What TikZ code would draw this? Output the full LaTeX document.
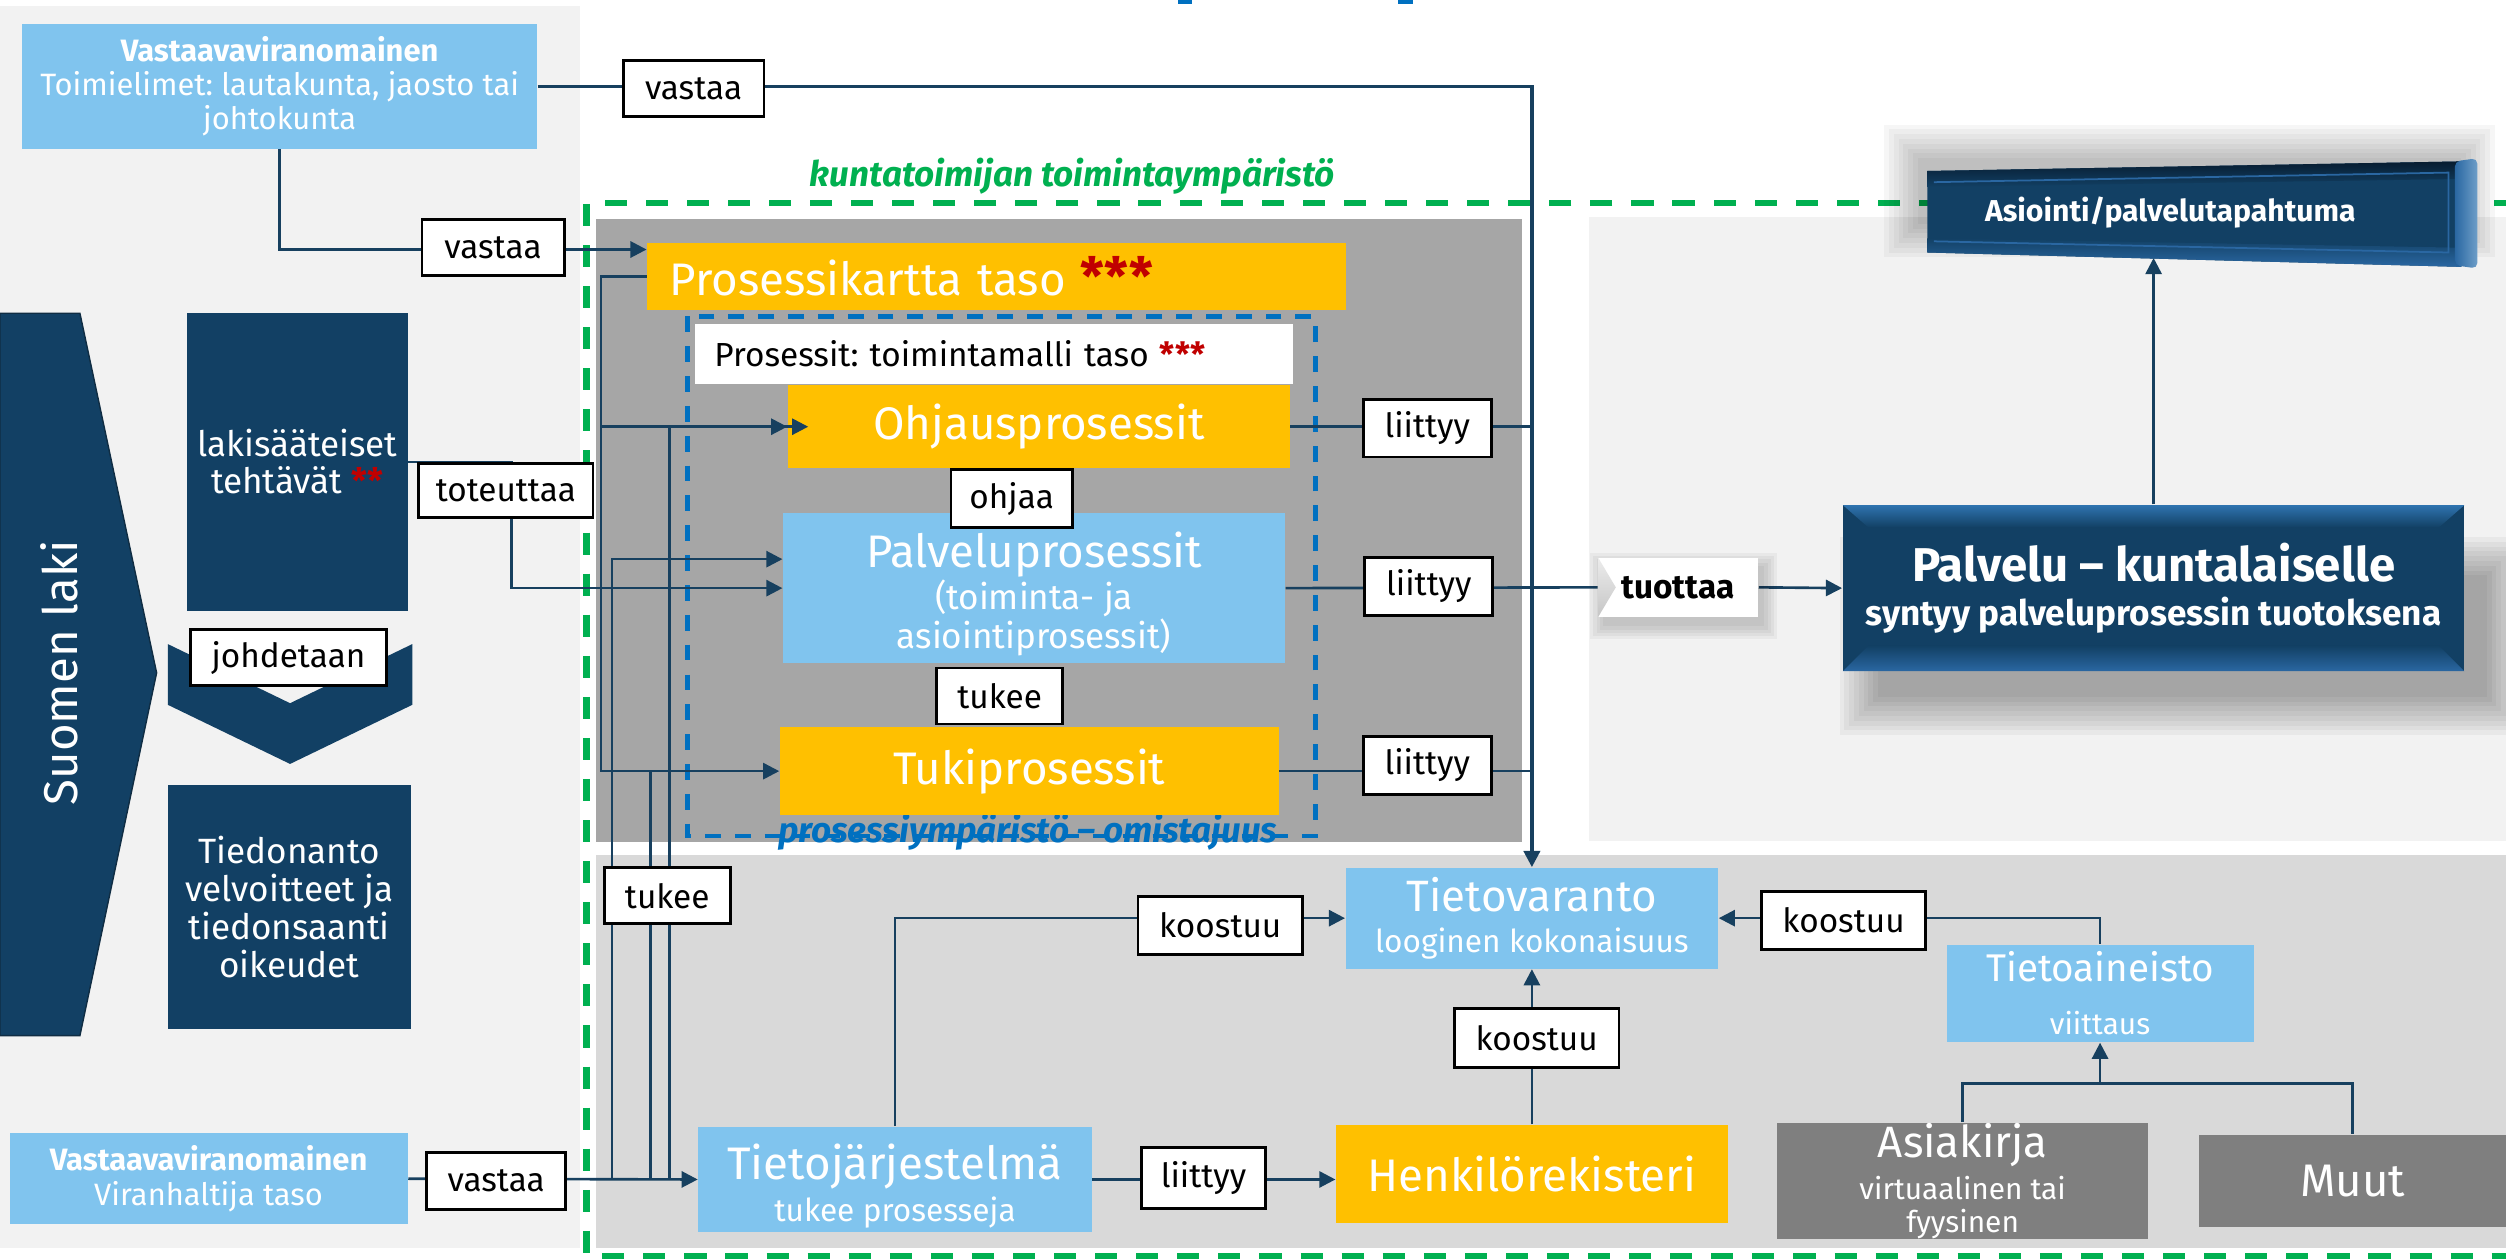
\documentclass[tikz,border=0pt]{standalone}
\usepackage{fontspec}
\setmainfont{Fira Sans}
\usetikzlibrary{arrows.meta,calc}
\definecolor{navy}{HTML}{124064}
\definecolor{lnc}{HTML}{17405F}
\definecolor{ylw}{HTML}{FFC000}
\definecolor{sky}{HTML}{80C4EE}
\definecolor{gry}{HTML}{7F7F7F}
\definecolor{pdark}{HTML}{A6A6A6}
\definecolor{plight}{HTML}{F2F2F2}
\definecolor{pmid}{HTML}{D9D9D9}
\definecolor{astred}{HTML}{C00000}
\definecolor{grn}{HTML}{00B050}
\definecolor{dblue}{HTML}{0070C0}
\definecolor{bevtop}{HTML}{2F74B0}
\definecolor{bevbot}{HTML}{2A67A2}
\definecolor{bandark}{HTML}{071C30}
\newcommand\redstars[1]{{\color{astred}\bfseries #1}}
\pgfdeclarelayer{bg}
\pgfdeclarelayer{fg}
\pgfdeclarelayer{top}
\pgfsetlayers{bg,main,fg,top}
\frenchspacing
\begin{document}
\begin{tikzpicture}[x=0.16mm, y=-0.16mm,
  bx/.style 2 args={minimum width=#1*0.16mm, minimum height=#2*0.16mm, inner sep=0pt, align=center, text=white},
  lbl/.style 2 args={bx={#1}{#2}, fill=white, draw=black, line width=0.8pt, text=black, font=\fontsize{9.5}{11}\selectfont},
  big/.style={font=\fontsize{13}{15}\selectfont},
  conn/.style={draw=lnc, line width=0.75pt},
  arr/.style={conn, -{Triangle[length=4.6pt, width=4.6pt]}},
  softshade/.style={fill=black, fill opacity=0.04},
]
\useasboundingbox (0,0) rectangle (1568,788);

% ---------- panels and frames ----------
\begin{pgfonlayer}{bg}
\fill[plight] (0,4) rectangle (363,781);
\fill[pdark] (373,137) rectangle (952,527);
\fill[plight] (994,136) rectangle (1600,526);
\fill[pmid] (373,535) rectangle (1600,781);
\node[text=dblue, font=\bfseries\itshape\fontsize{10}{12}\selectfont] (ownlbl) at (643,521) {prosessiympäristö – omistajuus};
\draw[dblue, line width=1.3pt, dash pattern=on 4.5pt off 4pt] (430,198) rectangle (823,523);
\draw[grn, line width=1.8pt, dash pattern=on 6.3pt off 5.4pt] (1600,127) -- (367,127) -- (367,786) -- (1600,786);
\node[text=grn, font=\bfseries\itshape\fontsize{10}{12}\selectfont] (envlbl) at (671,110) {kuntatoimijan toimintaympäristö};
\fill[dblue] (737,0) rectangle (746,2.5);
\fill[dblue] (875,0) rectangle (884,2.5);
\end{pgfonlayer}

% ---------- boxes ----------
\begin{pgfonlayer}{fg}
% law column
\fill[navy, draw=lnc!70!black, line width=0.4pt] (0,196) -- (50,196) -- (98,421) -- (50,648) -- (0,648) -- cycle;
\node[rotate=90, text=white, font=\fontsize{13.5}{15}\selectfont] (suomen) at (37,421) {Suomen laki};
\node[bx={138}{186}, fill=navy, font=\fontsize{10}{10.5}\selectfont] (laki) at (186,289) {lakisääteiset\\tehtävät \redstars{**}};
\fill[navy] (105,403) -- (181.5,440) -- (258,403) -- (258,441) -- (181.5,478) -- (105,441) -- cycle;
\node[bx={152}{153}, fill=navy, font=\fontsize{10}{10.9}\selectfont] (tiedon) at (181,567.5) {Tiedonanto\\velvoitteet ja\\tiedonsaanti\\oikeudet};
\node[bx={322}{78}, fill=sky, font=\fontsize{8.8}{9.8}\selectfont] (topauth) at (175,54) {\textbf{Vastaavaviranomainen}\\Toimielimet: lautakunta, jaosto tai\\johtokunta};
\node[bx={249}{57}, fill=sky, font=\fontsize{8.8}{9.8}\selectfont] (botauth) at (130.5,737.5) {\textbf{Vastaavaviranomainen}\\Viranhaltija taso};

% process map
\node[fill=ylw, minimum height=42*0.16mm, inner xsep=14*0.16mm, inner ysep=0pt, text width=409*0.16mm, align=left, text=white, big] (pk) at (623.5,173) {Prosessikartta taso \redstars{\fontsize{15}{15}\selectfont ***}};
\node[fill=white, minimum height=37*0.16mm, inner xsep=12*0.16mm, inner ysep=0pt, text width=350*0.16mm, align=left, font=\fontsize{9.5}{11}\selectfont] (pmodel) at (622,221.5) {Prosessit: toimintamalli taso \redstars{***}};
\node[bx={314}{52}, fill=ylw, big] (ohjaus) at (650,267) {Ohjausprosessit};
\node[bx={314}{94}, fill=sky, font=\fontsize{10}{11}\selectfont] (palvelu) at (647,368) {\mbox{}\\[2.4pt]{\fontsize{13}{15}\selectfont Palveluprosessit}\\[-0.3pt](toiminta- ja\\asiointiprosessit)};
\node[bx={312}{55}, fill=ylw, big] (tuki) at (644,482.5) {Tukiprosessit};

% information layer
\node[bx={246}{66}, fill=sky, font=\fontsize{9}{10.5}\selectfont] (tietoj) at (560,738) {\mbox{}\\[3.3pt]{\fontsize{13}{15}\selectfont Tietojärjestelmä}\\[1.5pt]tukee prosesseja};
\node[bx={233}{63}, fill=sky, font=\fontsize{9}{10.5}\selectfont] (tietov) at (958.5,574.5) {{\fontsize{12.5}{14}\selectfont Tietovaranto}\\[1.3pt]looginen kokonaisuus};
\node[bx={245}{61}, fill=ylw, big] (henk) at (958.5,734.5) {Henkilörekisteri};
\node[bx={192}{61}, fill=sky, font=\fontsize{8.5}{10}\selectfont] (tietoa) at (1314,621.5) {{\fontsize{11}{13}\selectfont Tietoaineisto}\\[5pt]viittaus};
\node[bx={232}{72}, fill=gry, font=\fontsize{8.5}{9.5}\selectfont] (asiakirja) at (1228,739) {{\fontsize{12.5}{14}\selectfont Asiakirja}\\[2.5pt]virtuaalinen tai\\fyysinen};
\node[bx={192}{58}, fill=gry, big] (muut) at (1472,739) {Muut};

% service output, with a soft drop shadow below it
\foreach \g in {0,3,...,24} {
  \fill[softshade] (1153+22-\g,316+44-\g) rectangle (1542+14+\g,420+16+\g);
}
\fill[navy] (1153,316) rectangle (1542,420);
\shade[top color=bevtop, bottom color=navy] (1153,316) -- (1542,316) -- (1526,330) -- (1169,330) -- cycle;
\shade[top color=navy, bottom color=bevbot] (1169,404) -- (1526,404) -- (1542,420) -- (1153,420) -- cycle;
\node[bx={389}{104}, font=\bfseries\fontsize{10}{11.5}\selectfont] (pk2) at (1347.5,368) {{\fontsize{13.5}{15}\selectfont Palvelu – kuntalaiselle}\\[1pt]syntyy palveluprosessin tuotoksena};

% service event banner
\foreach \g in {0,3,...,21} {
  \fill[softshade, fill opacity=0.035] (1206-6-\g,107-8-\g) rectangle (1540+\g,140+\g);
}
\fill[navy] (1206,107) -- (1540,101) -- (1540,167) -- (1206,158) -- cycle;
\shade[top color=bandark, bottom color=navy] (1206,107) -- (1540,101) -- (1540,112) -- (1206,117) -- cycle;
\shade[top color=navy, bottom color=bevbot] (1206,149) -- (1540,155) -- (1540,167) -- (1206,158) -- cycle;
\draw[bevbot, line width=0.5pt] (1210,114) -- (1532,108) -- (1532,158) -- (1210,151);
\shade[left color=bevbot, right color=bevtop!70!white, rounded corners=1.5pt] (1536,101) -- (1550,99) -- (1550,168) -- (1536,166) -- cycle;
\node[bx={300}{56}, font=\bfseries\fontsize{8.6}{10}\selectfont] (asio) at (1358,133) {Asiointi/palvelutapahtuma};

% relation labels
\node[lbl={88}{35}] (vastaa1) at (434,55.5) {vastaa};
\node[lbl={89}{35}] (vastaa2) at (308.5,155) {vastaa};
\node[lbl={87}{36}] (vastaa3) at (310.5,739) {vastaa};
\node[lbl={109}{34}] (toteuttaa) at (316.5,307) {toteuttaa};
\node[lbl={123}{35}] (johdetaan) at (180.5,411.5) {johdetaan};
\node[lbl={76}{36}] (ohjaa) at (633,312) {ohjaa};
\node[lbl={79}{35}] (tukee1) at (625.5,435.5) {tukee};
\node[lbl={79}{35}] (tukee2) at (417.5,560.5) {tukee};
\node[lbl={80}{36}] (liittyy1) at (893,268) {liittyy};
\node[lbl={80}{36}] (liittyy2) at (894,367) {liittyy};
\node[lbl={80}{36}] (liittyy3) at (893,479) {liittyy};
\node[lbl={78}{38}] (liittyy4) at (753,737) {liittyy};
\node[lbl={103}{36}] (koostuu1) at (763.5,579) {koostuu};
\node[lbl={103}{37}] (koostuu2) at (961.5,649.5) {koostuu};
\node[lbl={103}{36}] (koostuu3) at (1153.5,576) {koostuu};
\foreach \g in {0,2,...,8} {
  \fill[softshade] (1000+3-\g,349+5-\g) rectangle (1100+4+\g,386+6+\g);
}
\node[bx={100}{37}, fill=white, text=black, font=\bfseries\fontsize{9.5}{11}\selectfont] (tuottaa) at (1050,367.5) {tuottaa};
\shade[top color=gray!15, bottom color=gray!45] (1000,349) -- (1011,367.5) -- (1000,386) -- cycle;
\end{pgfonlayer}

% ---------- connectors ----------
\coordinate (bA) at (376,0);
\coordinate (t1) at (383,0);
\coordinate (t2) at (407,0);
\coordinate (t3) at (419,0);
\coordinate (tt) at (320,0);
\coordinate (jn) at (1314,678);

\draw[arr, line width=1pt] (topauth.east) -| (tietov.north);
\draw[arr] (topauth.south) |- ([yshift=2.7mm]pk.west);
\draw[arr] (pk.west) -- (pk.west -| bA) |- (tuki.west);
\draw[arr] (bA |- ohjaus.west) -- (ohjaus.west);
\draw[arr] (laki.east) -- (laki.east -| tt) |- (palvelu.west);
\draw[arr] (tietoj.west -| t1) |- ([yshift=2.9mm]palvelu.west);
\draw[conn] (tietoj.west -| t2) -- (t2 |- tuki.west);
\draw[conn] (tietoj.west -| t3) -- (t3 |- ohjaus.west);
\draw[arr] (botauth.east) -- (tietoj.west);
\draw[conn] (ohjaus.east) -- (ohjaus.east -| tietov.north);
\draw[conn] (palvelu.east) -- (tuottaa.west);
\draw[arr] (tuottaa.east) -- (pk2.west);
\draw[conn] (tuki.east) -- (tuki.east -| tietov.north);
\draw[arr] (pk2.north) -- (pk2.north |- asio.south);
\draw[arr] (tietoj.north) |- (tietov.west);
\draw[arr] (tietoj.east) -- (tietoj.east -| henk.west);
\draw[arr] (henk.north) -- (tietov.south);
\draw[arr] (tietoa.north) |- (tietov.east);
\draw[conn] (asiakirja.north) |- (jn) -| (muut.north);
\draw[arr] (jn) -- (tietoa.south);

\begin{pgfonlayer}{top}
\draw[arr] (t3 |- ohjaus.west) -- ([xshift=2.1mm]ohjaus.west);
\end{pgfonlayer}
\end{tikzpicture}
\end{document}
